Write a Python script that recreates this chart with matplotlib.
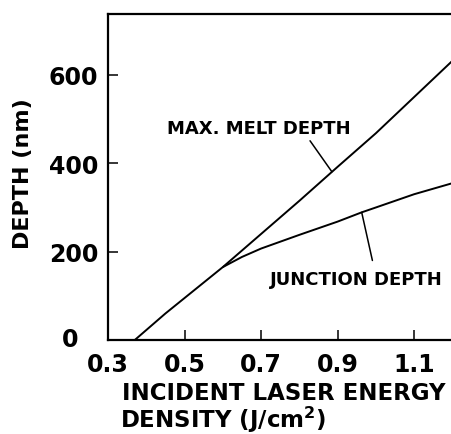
import matplotlib
matplotlib.use("Agg")
import matplotlib.pyplot as plt
from matplotlib.transforms import ScaledTranslation

plt.rcParams['font.family'] = ['DejaVu Sans']
plt.rcParams['font.weight'] = 'bold'
plt.rcParams['mathtext.default'] = 'bf'

# Data
melt_x = [0.37, 0.45, 0.50, 0.60, 0.70, 0.80, 0.90, 1.00, 1.10, 1.20]
melt_y = [0, 60, 95, 165, 240, 315, 392, 468, 550, 632]
junc_x = [0.60, 0.65, 0.70, 0.80, 0.90, 0.963, 1.00, 1.10, 1.20]
junc_y = [165, 188, 207, 238, 268, 289, 300, 330, 355]

x_ticks = [0.3, 0.5, 0.7, 0.9, 1.1]
x_tick_labels = ["0.3", "0.5", "0.7", "0.9", "1.1"]
y_ticks = [0, 200, 400, 600]
y_tick_labels = ["0", "200", "400", "600"]

W, H = 452, 435
fig = plt.figure(figsize=(W / 100, H / 100), dpi=100)
fig.patch.set_facecolor('white')
ax = fig.add_axes([108 / W, 1 - 341 / H, 1 - 108 / W, (341 - 15) / H])

ax.plot(melt_x, melt_y, color='black', lw=1.4, solid_capstyle='butt')
ax.plot(junc_x, junc_y, color='black', lw=1.4, solid_capstyle='butt')

ax.set_xlim(0.3, 1.199)
ax.set_ylim(0, 738)

ax.set_xticks(x_ticks)
ax.set_xticklabels(x_tick_labels)
ax.set_yticks(y_ticks)
ax.set_yticklabels(y_tick_labels)
ax.tick_params(direction='in', length=7, width=1.1, labelsize=17, pad=7)
ax.tick_params(axis='x', pad=9)
for lab in ax.get_xticklabels() + ax.get_yticklabels():
    lab.set_fontweight('bold')
# the "0" label sits lower-left in the reference
zero_lab = ax.get_yticklabels()[0]
zero_lab.set_transform(zero_lab.get_transform() + ScaledTranslation(-20 / 100, 3 / 100, fig.dpi_scale_trans))

for s in ['left', 'top', 'bottom']:
    ax.spines[s].set_linewidth(1.6)
ax.spines['right'].set_visible(False)

# Annotations
ax.text(0.694, 481, "MAX. MELT DEPTH", ha='center', va='center', fontsize=13, fontweight='bold')
ax.annotate("", xy=(0.885, 381), xytext=(0.828, 451),
            arrowprops=dict(arrowstyle='-', color='black', lw=1.1, shrinkA=0, shrinkB=0))
ax.text(0.950, 138, "JUNCTION DEPTH", ha='center', va='center', fontsize=13, fontweight='bold')
ax.annotate("", xy=(0.963, 289), xytext=(0.991, 180),
            arrowprops=dict(arrowstyle='-', color='black', lw=1.1, shrinkA=0, shrinkB=0))

# Axis labels
fig.text(23 / W, 1 - 174 / H, "DEPTH (nm)", rotation=90, ha='center', va='center',
         fontsize=16, fontweight='bold')
fig.text(122 / W, 1 - 400 / H, "INCIDENT LASER ENERGY", ha='left', va='baseline',
         fontsize=16.5, fontweight='bold')
fig.text(120 / W, 1 - 428 / H, r"DENSITY (J/cm$^{2}$)", ha='left', va='baseline',
         fontsize=16.5, fontweight='bold')

fig.savefig("out.png", dpi=100, facecolor='white')
